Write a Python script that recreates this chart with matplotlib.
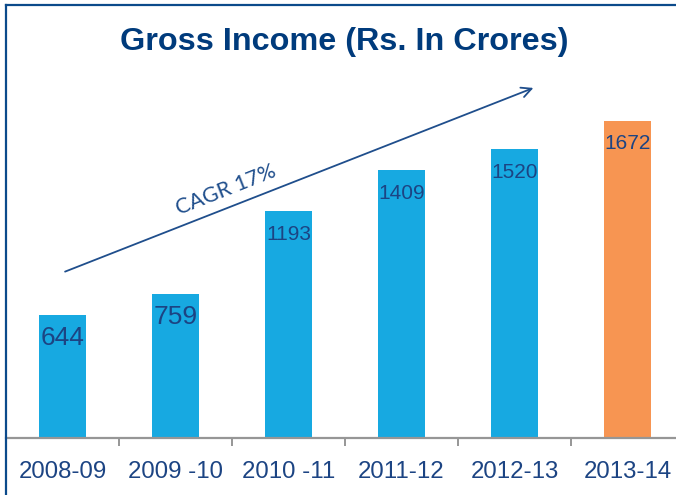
import matplotlib
matplotlib.use("Agg")
import matplotlib.pyplot as plt
from matplotlib.lines import Line2D

years = ["2008-09", "2009 -10", "2010 -11", "2011-12", "2012-13", "2013-14"]
gross_income = [644, 759, 1193, 1409, 1520, 1672]
cagr_label = "CAGR 17%"

BLUE = "#17A9E1"
ORANGE = "#F79552"
NAVY = "#1C4483"
TITLE_NAVY = "#003B7C"

W, H = 676, 495
fig = plt.figure(figsize=(W / 100, H / 100), dpi=100)

# axes spans the six category slots (each ~113 px), baseline at y=437
ax = fig.add_axes([6 / W, (H - 437.5) / H, 678 / W, 379 / H])
x = range(len(years))
colors = [BLUE] * (len(years) - 1) + [ORANGE]
ax.bar(x, gross_income, width=0.41, color=colors, zorder=2)
ax.set_xlim(-0.5, len(years) - 0.5)
ax.set_ylim(0, 2000)

for i, v in enumerate(gross_income):
    ax.annotate(str(v), (i, v), xytext=(0, -23), textcoords="offset pixels",
                ha="center", va="center", fontsize=19 if v < 1000 else 15,
                family="Liberation Sans", color=NAVY)

ax.set_yticks([])
for s in ("left", "right", "top"):
    ax.spines[s].set_visible(False)
ax.spines["bottom"].set_color("#969696")
ax.spines["bottom"].set_linewidth(1.6)
ax.set_xticks([i - 0.5 for i in range(len(years) + 1)], minor=False)
ax.set_xticklabels([])
ax.tick_params(axis="x", which="major", length=6, width=1.4, color="#969696")
ax.set_xticks(list(x), minor=True)
ax.set_xticklabels(years, minor=True, fontsize=17.3, family="Liberation Sans",
                   color=NAVY)
ax.tick_params(axis="x", which="minor", length=0, pad=17)

# CAGR trend arrow, from first bar slot up past the fifth
ax.annotate("", xy=(4.19, 1850), xytext=(0, 870),
            arrowprops=dict(arrowstyle="->", color="#1F4E8C", lw=1.3,
                            mutation_scale=18))
ax.text(1.45, 1305, cagr_label, rotation=21.6, ha="center", va="center",
        fontsize=15.5, family="Lato", color="#1F4E8C",
        rotation_mode="anchor")

fig.text(344 / W, 1 - 42 / H, "Gross Income (Rs. In Crores)", ha="center",
         va="center", fontsize=23.3, fontweight="bold",
         family="Liberation Sans", color=TITLE_NAVY)

# slide frame: top and left border
fig.add_artist(Line2D([6 / W, 1], [1 - 4.5 / H, 1 - 4.5 / H],
                      transform=fig.transFigure, color="#0B4A8B", lw=1.6))
fig.add_artist(Line2D([6 / W, 6 / W], [0, 1 - 4.5 / H],
                      transform=fig.transFigure, color="#0B4A8B", lw=1.6))

fig.savefig("out.png", dpi=100)
